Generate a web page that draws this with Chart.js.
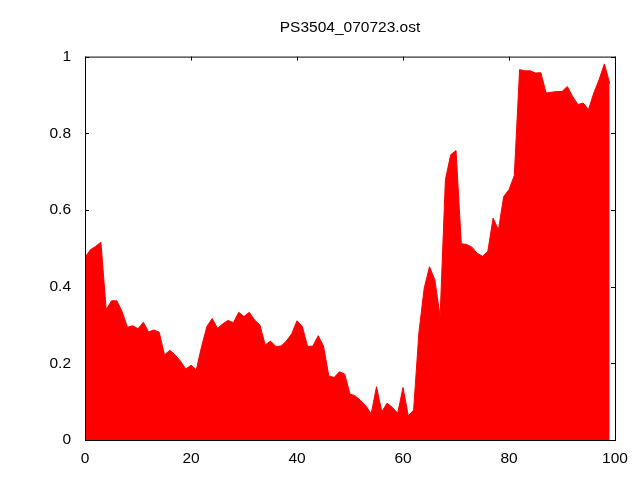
<!DOCTYPE html>
<html>
<head>
<meta charset="utf-8">
<script src="https://cdn.jsdelivr.net/npm/chart.js@4"></script>
<style>
  html, body { margin: 0; padding: 0; background: #fff; }
  #wrap { width: 640px; height: 480px; }
</style>
</head>
<body>
<div id="wrap"><canvas id="chart"></canvas></div>
<script>
// Sample index along x
const xs = Array.from({ length: 100 }, (_, i) => i);

// Values
const values = [
    0.476, 0.496, 0.505, 0.516, 0.340, 0.363, 0.363, 0.335, 0.294, 0.298,
    0.290, 0.307, 0.282, 0.287, 0.281, 0.222, 0.234, 0.222, 0.206, 0.185,
    0.195, 0.183, 0.244, 0.296, 0.317, 0.291, 0.303, 0.312, 0.306, 0.333,
    0.322, 0.333, 0.313, 0.300, 0.248, 0.258, 0.244, 0.245, 0.258, 0.277,
    0.311, 0.296, 0.244, 0.245, 0.272, 0.245, 0.167, 0.163, 0.178, 0.172,
    0.120, 0.115, 0.103, 0.089, 0.068, 0.139, 0.074, 0.096, 0.085, 0.070,
    0.137, 0.063, 0.078, 0.280, 0.396, 0.452, 0.418, 0.322, 0.679, 0.744,
    0.755, 0.512, 0.510, 0.503, 0.487, 0.479, 0.492, 0.579, 0.548, 0.635,
    0.653, 0.690, 0.966, 0.963, 0.963, 0.957, 0.958, 0.905, 0.907, 0.909,
    0.909, 0.922, 0.896, 0.875, 0.879, 0.862, 0.905, 0.940, 0.981, 0.930
];

const title = 'PS3504_070723.ost';

const font = { family: '"Liberation Sans", Arial, sans-serif', size: 15.5 };

// gnuplot style: inward ticks under the fill, box on top
const frame = {
    id: 'frame',
    beforeDatasetsDraw(chart) {
        const { ctx, chartArea: a, scales } = chart;
        const len = 4;
        ctx.save();
        ctx.strokeStyle = '#000';
        ctx.lineWidth = 1;
        ctx.beginPath();
        scales.x.ticks.forEach(t => {
            const px = Math.round(scales.x.getPixelForValue(t.value)) + 0.5;
            ctx.moveTo(px, a.bottom); ctx.lineTo(px, a.bottom - len);
            ctx.moveTo(px, a.top); ctx.lineTo(px, a.top + len);
        });
        scales.y.ticks.forEach(t => {
            const py = Math.round(scales.y.getPixelForValue(t.value)) + 0.5;
            ctx.moveTo(a.left, py); ctx.lineTo(a.left + len, py);
            ctx.moveTo(a.right, py); ctx.lineTo(a.right - len, py);
        });
        ctx.stroke();
        ctx.restore();
    },
    afterDatasetsDraw(chart) {
        const { ctx, chartArea: a } = chart;
        ctx.save();
        ctx.strokeStyle = '#000';
        ctx.lineWidth = 1;
        ctx.strokeRect(a.left + 0.5, a.top + 0.5, a.right - a.left, a.bottom - a.top);
        ctx.restore();
    }
};

new Chart(document.getElementById('chart'), {
    type: 'line',
    data: {
        datasets: [{
            data: values.map((v, i) => ({ x: xs[i], y: v })),
            backgroundColor: '#ff0000',
            borderColor: '#ff0000',
            borderWidth: 1,
            fill: 'origin',
            pointRadius: 0,
            tension: 0
        }]
    },
    options: {
        responsive: true,
        maintainAspectRatio: false,
        animation: false,
        layout: { padding: { top: 0, left: 0, right: 25, bottom: 0 } },
        plugins: {
            legend: { display: false },
            tooltip: { enabled: false },
            title: {
                display: true,
                text: title,
                fullSize: false,
                color: '#000',
                font: { family: font.family, size: 15.5, weight: 'normal' },
                padding: { top: 18, bottom: 20 }
            }
        },
        scales: {
            x: {
                type: 'linear',
                min: 0,
                max: 100,
                ticks: { stepSize: 20, color: '#000', font, padding: 9, maxRotation: 0 },
                grid: { display: false, drawTicks: false },
                border: { display: false },
                afterFit(s) { s.height = 40; }
            },
            y: {
                min: 0,
                max: 1,
                ticks: {
                    stepSize: 0.2, color: '#000', font, padding: 14,
                    callback: v => String(Math.round(v * 10) / 10)
                },
                grid: { display: false, drawTicks: false },
                border: { display: false },
                afterFit(s) { s.width = 85; }
            }
        }
    },
    plugins: [frame]
});
</script>
</body>
</html>
